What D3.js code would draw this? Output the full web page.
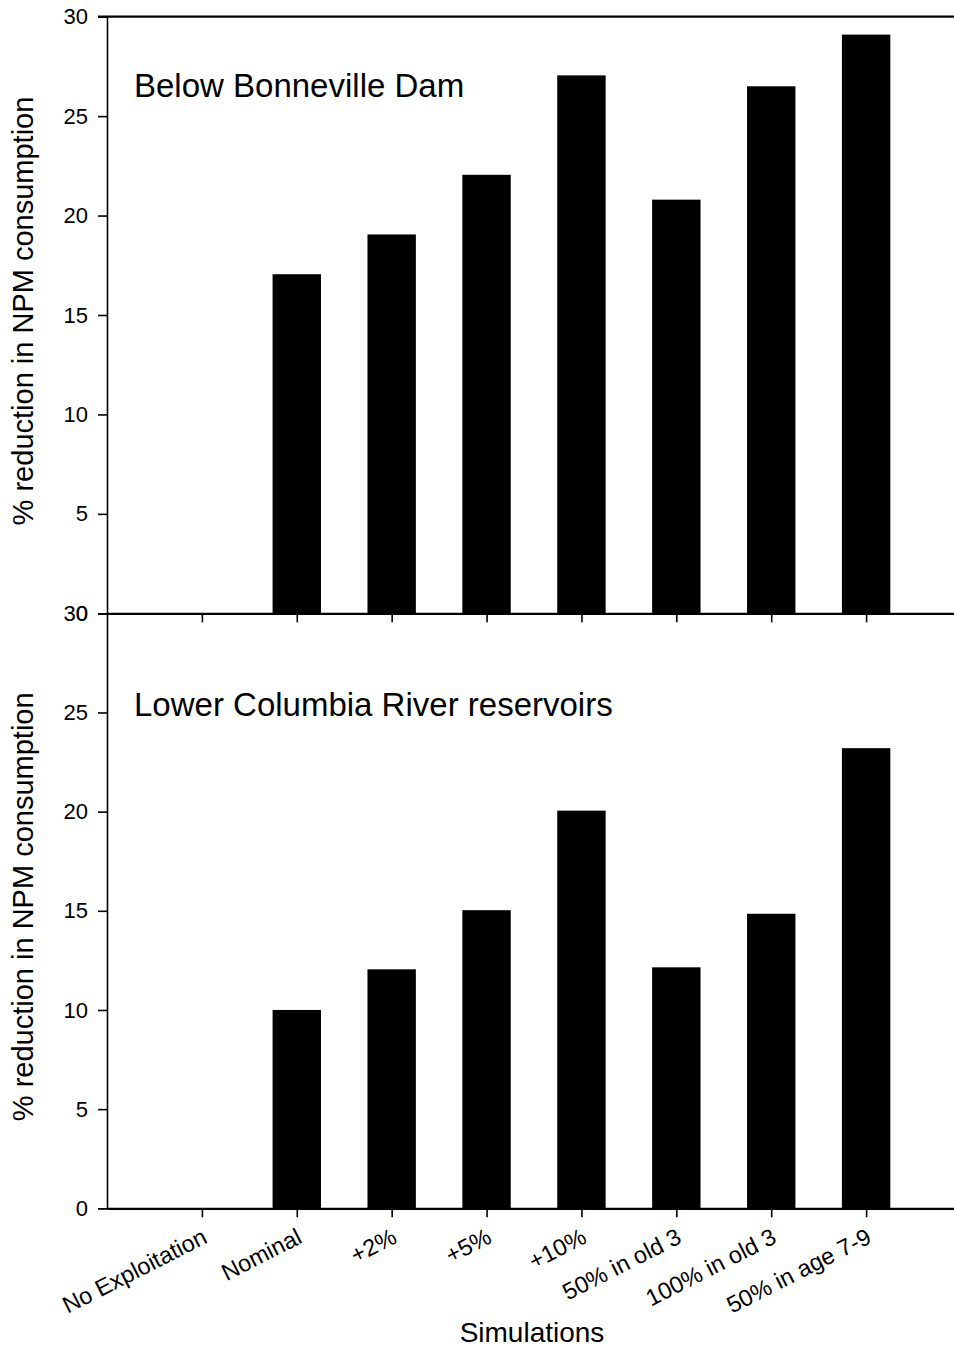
<!DOCTYPE html>
<html><head><meta charset="utf-8">
<script src="https://cdn.jsdelivr.net/npm/d3@7"></script>
<style>
html,body{margin:0;padding:0;background:#fff;}
svg{display:block;font-family:"Liberation Sans",Arial,sans-serif;}
</style></head>
<body>
<script>
const categories = ["No Exploitation","Nominal","+2%","+5%","+10%","50% in old 3","100% in old 3","50% in age 7-9"];
const belowBonneville = [0, 17.05, 19.05, 22.05, 27.05, 20.8, 26.5, 29.1];
const lowerColumbia = [0, 10.0, 12.05, 15.03, 20.05, 12.15, 14.85, 23.2];
const yTicks = [0, 5, 10, 15, 20, 25, 30];
const panelTitles = ["Below Bonneville Dam", "Lower Columbia River reservoirs"];
const yTitle = "% reduction in NPM consumption";
const xTitle = "Simulations";

const W = 954, H = 1348;
const FONT = '"Liberation Sans",Arial,sans-serif';
const svg = d3.select("body").append("svg").attr("width", W).attr("height", H);

const x0 = 107, x1 = 961;
const x = d3.scalePoint().domain(categories).range([x0, x1]).padding(1);
const barW = x.step() * 0.51;

const panels = [
  {data: belowBonneville, top: 16.7, bottom: 613.3, title: panelTitles[0], titleY: 97, topLine: true},
  {data: lowerColumbia, top: 613.3, bottom: 1208.3, title: panelTitles[1], titleY: 716, topLine: false}
];

panels.forEach((p, pi) => {
  const y = d3.scaleLinear().domain([0, 30]).range([p.bottom, p.top]);
  const g = svg.append("g");
  g.selectAll("rect").data(categories.map((c, i) => ({c, v: p.data[i]})).filter(d => d.v > 0))
    .enter().append("rect")
    .attr("x", d => x(d.c) - barW / 2)
    .attr("width", barW)
    .attr("y", d => y(d.v))
    .attr("height", d => y(0) - y(d.v))
    .attr("fill", "#000");
  const ya = g.append("g").attr("transform", `translate(${x0},0)`)
    .call(d3.axisLeft(y).tickValues(yTicks).tickSize(9).tickPadding(10).tickFormat(d3.format("d")));
  ya.attr("font-size", 22).attr("font-family", FONT);
  ya.select(".domain").attr("stroke-width", 1.6);
  ya.selectAll(".tick line").attr("stroke-width", 1.6);
  const xa = g.append("g").attr("transform", `translate(0,${p.bottom})`)
    .call(d3.axisBottom(x).tickSize(9).tickSizeOuter(0).tickFormat(""));
  xa.select(".domain").attr("stroke-width", 2.2);
  xa.selectAll(".tick line").attr("stroke-width", 1.6);
  if (p.topLine) {
    g.append("line").attr("x1", x0 - 9).attr("x2", x1).attr("y1", p.top).attr("y2", p.top)
      .attr("stroke", "#000").attr("stroke-width", 2.2);
  }
  g.append("text").attr("x", 134).attr("y", p.titleY).attr("font-size", 33).text(p.title);
  g.append("text")
    .attr("transform", `translate(33,${(p.top + p.bottom) / 2 - 4}) rotate(-90)`)
    .attr("text-anchor", "middle").attr("font-size", 29).text(yTitle);
});

svg.append("g").selectAll("text").data(categories).enter().append("text")
  .attr("transform", d => `translate(${x(d) - 1},1227) rotate(-27)`)
  .attr("text-anchor", "end").attr("dy", "0.72em").attr("font-size", 23.5)
  .text(d => d);

svg.append("text").attr("x", 532).attr("y", 1342).attr("text-anchor", "middle")
  .attr("font-size", 28).text(xTitle);
</script>
</body></html>
